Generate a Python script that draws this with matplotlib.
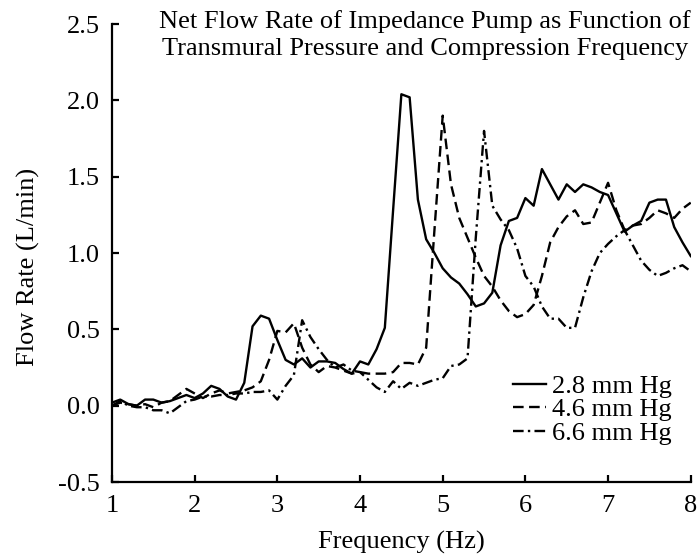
import matplotlib
matplotlib.use("Agg")
import matplotlib.pyplot as plt

freq = [1.0, 1.1, 1.2, 1.3, 1.4, 1.5, 1.6, 1.7, 1.8, 1.9,
        2.0, 2.1, 2.2, 2.3, 2.4, 2.5, 2.6, 2.7, 2.8, 2.9,
        3.0, 3.1, 3.2, 3.3, 3.4, 3.5, 3.6, 3.7, 3.8, 3.9,
        4.0, 4.1, 4.2, 4.3, 4.4, 4.5, 4.6, 4.7, 4.8, 4.9,
        5.0, 5.1, 5.2, 5.3, 5.4, 5.5, 5.6, 5.7, 5.8, 5.9,
        6.0, 6.1, 6.2, 6.3, 6.4, 6.5, 6.6, 6.7, 6.8, 6.9,
        7.0, 7.1, 7.2, 7.3, 7.4, 7.5, 7.6, 7.7, 7.8, 7.9, 8.0]

flow_28 = [0.02, 0.04, 0.01, 0.00, 0.04, 0.04, 0.02, 0.03, 0.05, 0.07,
           0.05, 0.08, 0.13, 0.11, 0.06, 0.04, 0.15, 0.52, 0.59, 0.57,
           0.43, 0.30, 0.27, 0.31, 0.25, 0.29, 0.29, 0.28, 0.24, 0.21,
           0.29, 0.27, 0.37, 0.51, 1.28, 2.04, 2.02, 1.35, 1.09, 1.00,
           0.90, 0.84, 0.80, 0.73, 0.65, 0.67, 0.74, 1.05, 1.21, 1.23,
           1.36, 1.31, 1.55, 1.45, 1.35, 1.45, 1.40, 1.45, 1.43, 1.40,
           1.38, 1.26, 1.14, 1.18, 1.21, 1.33, 1.35, 1.35, 1.17, 1.07, 0.98]

flow_46 = [0.00, 0.02, 0.01, 0.00, 0.01, -0.01, 0.02, 0.03, 0.07, 0.11,
           0.08, 0.05, 0.08, 0.10, 0.08, 0.09, 0.10, 0.12, 0.16, 0.30,
           0.49, 0.48, 0.54, 0.38, 0.27, 0.22, 0.26, 0.25, 0.23, 0.21,
           0.22, 0.21, 0.21, 0.21, 0.22, 0.28, 0.28, 0.27, 0.38, 1.15,
           1.90, 1.45, 1.23, 1.10, 0.97, 0.85, 0.78, 0.69, 0.62, 0.58,
           0.60, 0.66, 0.85, 1.07, 1.17, 1.24, 1.28, 1.19, 1.20, 1.33,
           1.46, 1.28, 1.15, 1.18, 1.19, 1.23, 1.28, 1.26, 1.23, 1.29, 1.33]

flow_66 = [0.00, 0.03, 0.00, -0.01, -0.01, -0.03, -0.03, -0.05, -0.01, 0.03,
           0.04, 0.06, 0.06, 0.07, 0.07, 0.08, 0.08, 0.09, 0.09, 0.10,
           0.04, 0.13, 0.20, 0.56, 0.45, 0.37, 0.30, 0.25, 0.27, 0.23,
           0.22, 0.17, 0.12, 0.09, 0.16, 0.11, 0.15, 0.13, 0.15, 0.17,
           0.18, 0.26, 0.27, 0.31, 1.10, 1.80, 1.31, 1.22, 1.15, 1.03,
           0.85, 0.78, 0.65, 0.57, 0.57, 0.51, 0.51, 0.71, 0.88, 1.00,
           1.06, 1.11, 1.15, 1.05, 0.95, 0.89, 0.85, 0.87, 0.90, 0.92, 0.88]

series_labels = ["2.8 mm Hg", "4.6 mm Hg", "6.6 mm Hg"]
x_ticks = [1, 2, 3, 4, 5, 6, 7, 8]
y_ticks = [-0.5, 0.0, 0.5, 1.0, 1.5, 2.0, 2.5]
y_tick_labels = ["-0.5", "0.0", "0.5", "1.0", "1.5", "2.0", "2.5"]
title = "Net Flow Rate of Impedance Pump as Function of\nTransmural Pressure and Compression Frequency"

plt.rcParams['font.family'] = ['Liberation Serif', 'DejaVu Serif']
FS = 19

fig = plt.figure(figsize=(6.99, 5.59), dpi=100)
ax = fig.add_axes([0.1602, 0.1377, 0.828, 0.8193])

lw = 1.7
ax.plot(freq, flow_28, color='black', lw=lw, linestyle='-', label=series_labels[0])
ax.plot(freq, flow_46, color='black', lw=lw, linestyle=(0, (4.5, 2.3)), label=series_labels[1])
ax.plot(freq, flow_66, color='black', lw=lw, linestyle=(0, (4.5, 1.8, 1, 1.8)), label=series_labels[2])

ax.set_xlim(1, 8)
ax.set_ylim(-0.5, 2.5)
ax.set_xticks(x_ticks)
ax.set_yticks(y_ticks)
ax.set_yticklabels(y_tick_labels)

for s in ['top', 'right']:
    ax.spines[s].set_visible(False)
for s in ['left', 'bottom']:
    ax.spines[s].set_linewidth(1.6)

ax.tick_params(direction='in', length=5, width=1.6, labelsize=FS)
ax.tick_params(axis='y', pad=9)
ax.tick_params(axis='x', pad=9)

ax.set_xlabel("Frequency (Hz)", fontsize=FS, labelpad=10)
ax.set_ylabel("Flow Rate (L/min)", fontsize=FS)
ax.yaxis.set_label_coords(-0.125, 0.469)

fig.text(0.608, 0.982, title, ha='center', va='top', fontsize=FS, linespacing=1.28)

leg = ax.legend(loc='lower right', bbox_to_anchor=(0.985, 0.058), frameon=False,
                fontsize=FS, handlelength=1.25, handletextpad=0.2,
                labelspacing=0.0, borderaxespad=0.0)

fig.savefig("out.png", dpi=100)
